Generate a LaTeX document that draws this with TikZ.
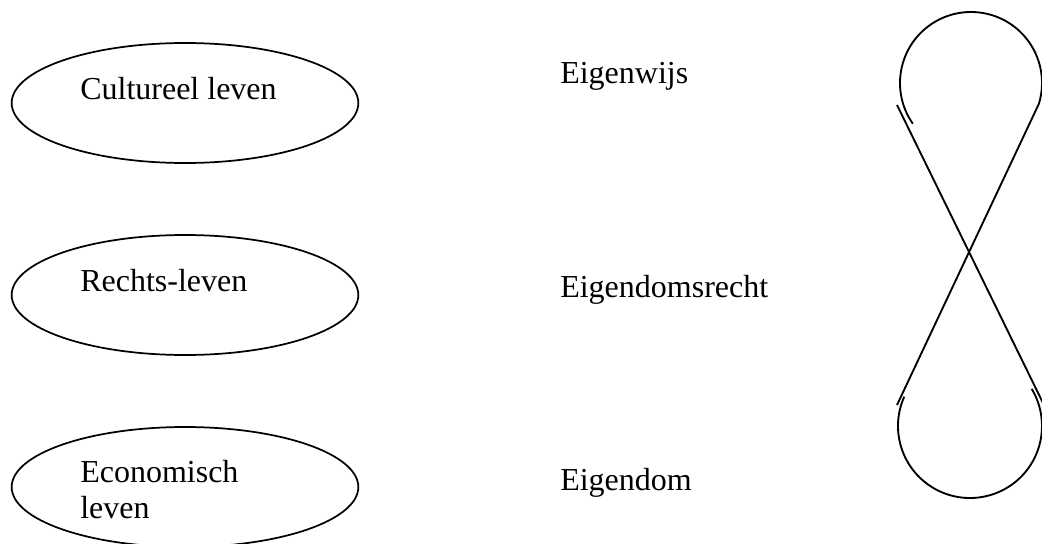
\documentclass[tikz,border=0pt]{standalone}
\usepackage{fontspec}
\setmainfont{Liberation Serif}
\usetikzlibrary{shapes.geometric}
\tikzset{
  sphere/.style={draw,ellipse,line width=1.3pt,inner sep=0pt,minimum width=260pt,minimum height=90pt},
  label/.style={anchor=base west,inner sep=0pt,font=\fontsize{24}{27}\selectfont,align=left},
  loop/.style={line width=1.4pt}
}
\begin{document}
\begin{tikzpicture}[x=0.75pt,y=-0.75pt]
\useasboundingbox (0,0) rectangle (1042,543);
% de drie levens
\node[sphere] (cultuur) at (185,103) {};
\node[sphere] (recht) at (185,295) {};
\node[sphere] (economie) at (185,487) {};
\node[label] (cultuurtxt) at (80,99) {Cultureel leven};
\node[label] (rechttxt) at (80,291) {Rechts-leven};
\node[label] (economietxt) at (80,518) {Economisch\\leven};
% eigen...
\node[label] (wijs) at (560,83) {Eigenwijs};
\node[label] (domsrecht) at (560,297) {Eigendomsrecht};
\node[label] (dom) at (560,490) {Eigendom};
% de acht
\coordinate (boven) at (971,83);
\coordinate (onder) at (970,426);
\coordinate (linksboven) at (897,105);
\coordinate (rechtsonder) at (1043,403);
\coordinate (linksonder) at (897,405);
\draw[loop] (boven) ++(-215:71) arc[start angle=-215,end angle=17,radius=71] -- (linksonder); %1
\draw[loop] (onder) ++(-156:72) arc[start angle=-156,end angle=-391,radius=72]; %2
\draw[loop] (linksboven) -- (rechtsonder); %3
\end{tikzpicture}
\end{document}
